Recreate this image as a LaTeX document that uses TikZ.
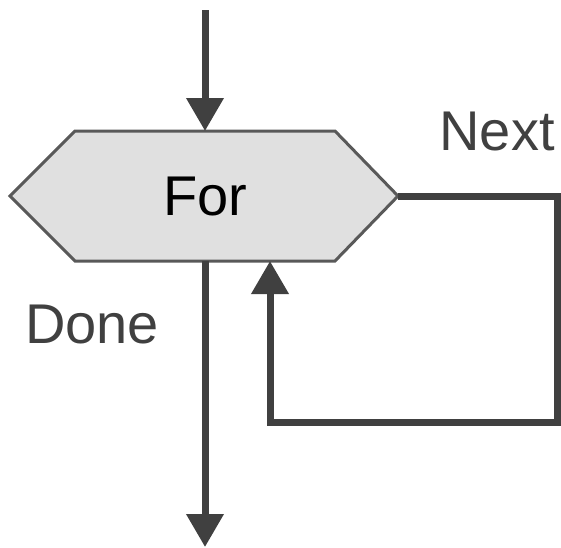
\documentclass[tikz,border=0pt]{standalone}
\usepackage{fontspec}
\setmainfont{Liberation Sans}
\usetikzlibrary{arrows.meta}
\definecolor{linegray}{HTML}{404040}
\definecolor{edgegray}{HTML}{595959}
\definecolor{fillgray}{HTML}{E0E0E0}
\tikzset{
  flow/.style={draw=linegray, line width=7pt, line join=miter,
    -{Triangle[length=33pt,width=36pt]}},
  hexa/.style={draw=edgegray, fill=fillgray, line width=3pt, line join=miter},
  lbl/.style={font=\fontsize{56}{60}\selectfont, text=linegray, anchor=base, inner sep=0pt},
}
\begin{document}
\begin{tikzpicture}[x=1pt,y=-1pt]
\useasboundingbox (0,0) rectangle (561,547);
\coordinate (top) at (205,10);
\coordinate (bottom) at (205,547);
\coordinate (hl) at (10,196);
\coordinate (hr) at (398,196);
\coordinate (ht) at (205,131);
\coordinate (hb) at (205,261);
\coordinate (loopin) at (270,261);
\coordinate (c1) at (557,196);
\coordinate (c2) at (557,422);
\coordinate (c3) at (270,422);
\draw[hexa] (hl) -- (75,131) -- (335,131) -- (hr) -- (335,261) -- (75,261) -- cycle;
\node[lbl, text=black] (for) at (205,215) {For};
\node[lbl] (next) at (497,150) {Next};
\node[lbl] (done) at (92,343) {Done};
\draw[flow] (top) -- (ht);
\draw[flow] (hb) -- (bottom);
\draw[flow] (hr) -- (c1) -- (c2) -- (c3) -- (loopin);
\end{tikzpicture}
\end{document}
